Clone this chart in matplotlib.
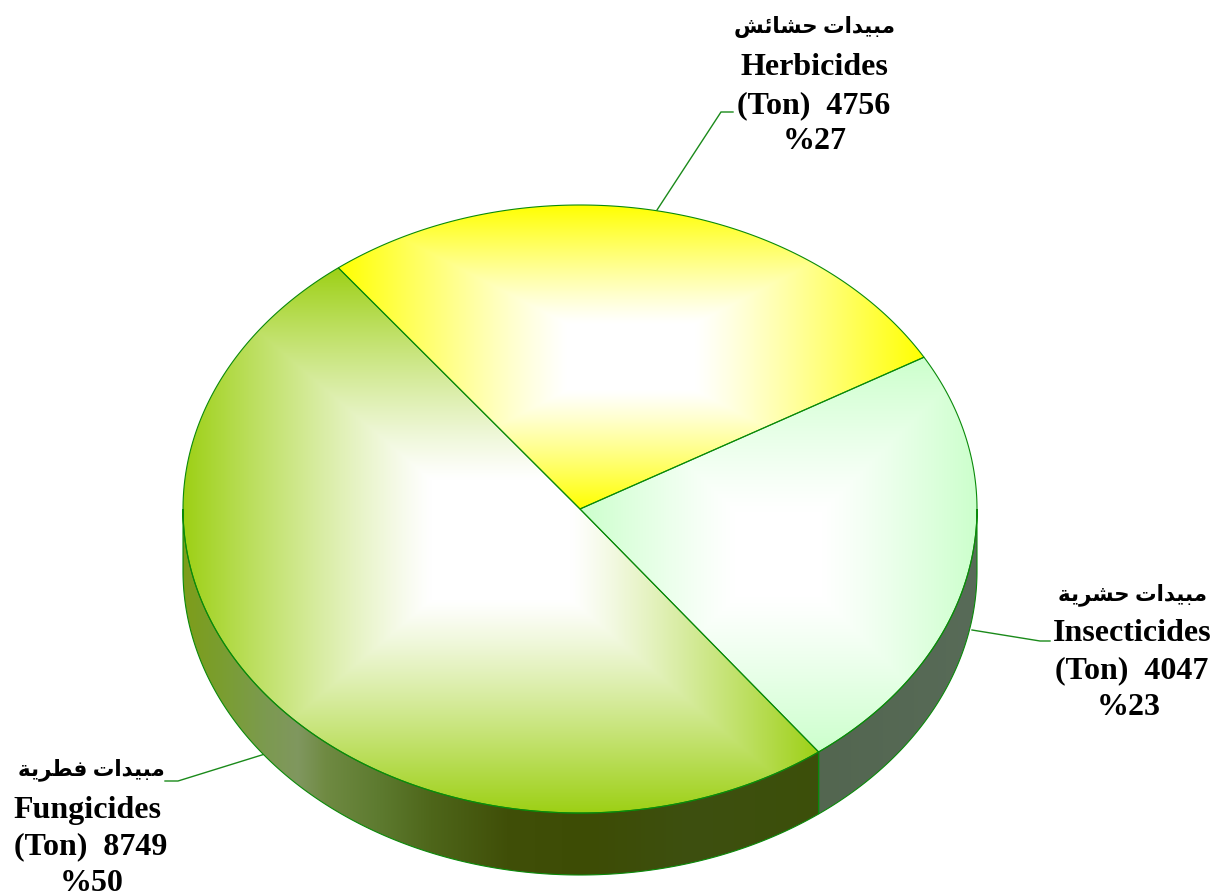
import numpy as np
import matplotlib
matplotlib.use("Agg")
import matplotlib.pyplot as plt
from matplotlib.patches import Polygon
from matplotlib.colors import to_rgb

# Data (order: counter-clockwise from the start angle)
names_en = ["Fungicides", "Insecticides", "Herbicides"]
names_ar_visual = [
    "\uFE94\uFEF3\uFEAE\uFEC4\uFED3 \uFE95\uFE8D\uFEAA\uFEF4\uFE92\uFEE3",
    "\uFE94\uFEF3\uFEAE\uFEB8\uFEA3 \uFE95\uFE8D\uFEAA\uFEF4\uFE92\uFEE3",
    "\uFEB6\uFE8B\uFE8E\uFEB8\uFEA3 \uFE95\uFE8D\uFEAA\uFEF4\uFE92\uFEE3",
]
tons = [8749, 4047, 4756]
percents = [50, 23, 27]
top_colors = ["#9dd015", "#ccffcc", "#ffff00"]

CX, CY, RX, RY, DEPTH = 580.0, 509.0, 397.0, 304.0, 62.0
START = 127.5
EDGE = "#0a8a0a"

fig = plt.figure(figsize=(12.18, 8.96), dpi=100)
ax = fig.add_axes([0, 0, 1, 1])
ax.axis("off")


def pts(a0, a1, n=240, dy=0.0):
    t = np.radians(np.linspace(a0, a1, n))
    return np.column_stack([CX + RX * np.cos(t), CY - RY * np.sin(t) + dy])


def fill_image(poly, rgba):
    xs, ys = poly[:, 0], poly[:, 1]
    x0, x1, y0, y1 = xs.min(), xs.max(), ys.min(), ys.max()
    im = ax.imshow(rgba, extent=(x0, x1, y1, y0), origin="upper", aspect="auto",
                   interpolation="bilinear", zorder=2)
    patch = Polygon(poly, closed=True, facecolor="none", edgecolor=EDGE, lw=0.8, zorder=3)
    ax.add_patch(patch)
    im.set_clip_path(patch)


sweeps = np.array(tons) / np.sum(tons) * 360.0
edges = START + np.concatenate([[0], np.cumsum(sweeps)])

# Side wall gradients: position across the wall -> colour
side_stops = {
    0: ([0.0, 0.06, 0.13, 0.18, 0.225, 0.31, 0.39, 0.51, 0.64, 0.80, 1.0],
        ["#7d9d1a", "#7a9e30", "#7c9a50", "#80975f", "#6f8a42", "#5d7a2f",
         "#4e661a", "#404f08", "#3d4c05", "#3e5010", "#3c4f0a"]),
    1: ([0.0, 1.0], ["#536650", "#586b58"]),
}

# Visible side walls
for i, (a0, a1) in enumerate(zip(edges[:-1], edges[1:])):
    lo, hi = max(a0, 180.0), min(a1, 360.0)
    if hi <= lo:
        continue
    top = pts(lo, hi)
    bottom = pts(hi, lo, dy=DEPTH)
    poly = np.vstack([top, bottom])
    pos, cols = side_stops[i]
    u = np.linspace(0, 1, 640)
    rgb = np.stack([np.interp(u, pos, [to_rgb(c)[k] for c in cols]) for k in range(3)], axis=-1)
    fill_image(poly, rgb[None, :, :])

# Top slices: rectangular gradient from white to the slice colour
for i, (a0, a1) in enumerate(zip(edges[:-1], edges[1:])):
    poly = np.vstack([[[CX, CY]], pts(a0, a1)])
    n = 500
    gx, gy = np.meshgrid(np.linspace(-1, 1, n), np.linspace(-1, 1, n))
    t = np.maximum(np.abs(gx), np.abs(gy))
    t = np.clip((t - 0.22) / 0.78, 0, 1) ** 1.15
    c = np.array(to_rgb(top_colors[i]))
    rgb = (1 - t[..., None]) + t[..., None] * c
    fill_image(poly, rgb)

# Leader lines
leader_x = [[265, 178, 165], [972, 1040, 1050], [657, 721, 733]]
leader_y = [[754, 781, 781], [630, 641, 641], [210, 112, 112]]
for lx, ly in zip(leader_x, leader_y):
    ax.plot(lx, ly, color="#1a8a1a", lw=1.0, zorder=1, solid_joinstyle="miter")

# Labels: one x centre per text line
label_x = [[91, 87, 91, 92], [1132, 1132, 1132, 1129], [814, 814, 814, 815]]
label_base = [[775, 818, 854, 891], [600, 641, 678, 715], [33, 75, 113, 149]]
FONT = ["Liberation Serif", "DejaVu Sans"]
for i in range(3):
    b = label_base[i]
    x = label_x[i]
    ax.text(x[0], b[0], names_ar_visual[i], family=FONT, weight="bold", fontsize=15.5,
            ha="center", va="baseline", color="black", zorder=5)
    ax.text(x[1], b[1], names_en[i], family=FONT, weight="bold", fontsize=23,
            ha="center", va="baseline", color="black", zorder=5)
    ax.text(x[2], b[2], f"(Ton)  {tons[i]}", family=FONT, weight="bold", fontsize=23,
            ha="center", va="baseline", color="black", zorder=5)
    ax.text(x[3], b[3], f"%{percents[i]}", family=FONT, weight="bold", fontsize=23,
            ha="center", va="baseline", color="black", zorder=5)

ax.set_xlim(0, 1218)
ax.set_ylim(896, 0)
fig.savefig("out.png", dpi=100, facecolor="white")
